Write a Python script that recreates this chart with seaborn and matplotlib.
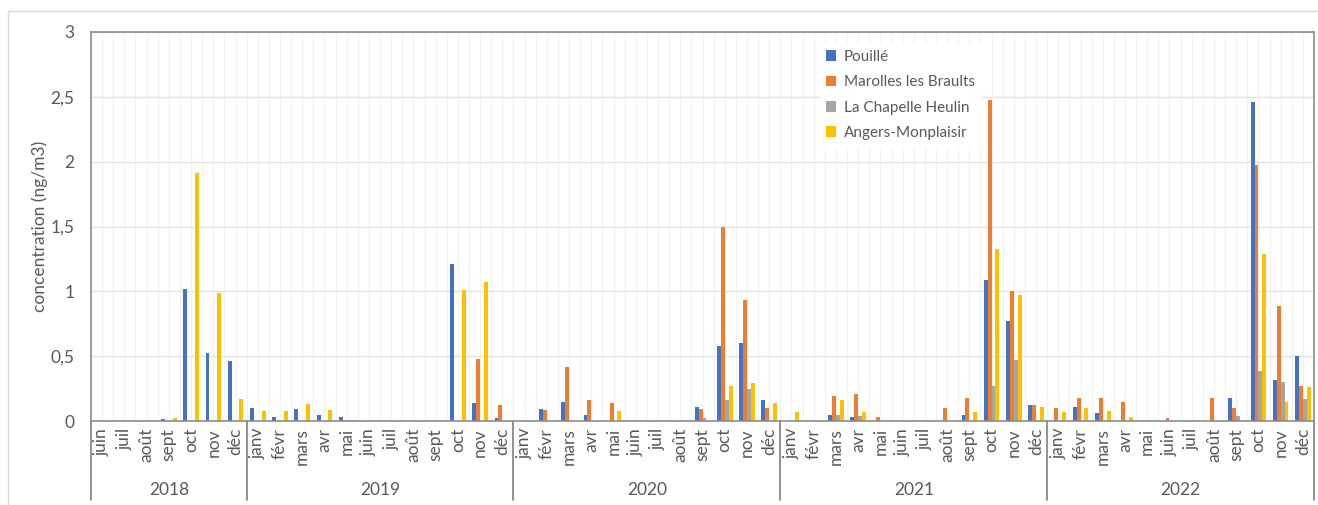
import numpy as np
import pandas as pd
import matplotlib
matplotlib.use("Agg")
import matplotlib.pyplot as plt
from matplotlib.patches import Rectangle
from matplotlib.ticker import FuncFormatter
import seaborn as sns

nan = np.nan

years = ["2018", "2019", "2020", "2021", "2022"]
months_full = ["janv", "févr", "mars", "avr", "mai", "juin",
               "juil", "août", "sept", "oct", "nov", "déc"]
months_2018 = ["juin", "juil", "août", "sept", "oct", "nov", "déc"]

stations = ["Pouillé", "Marolles les Braults", "La Chapelle Heulin", "Angers-Monplaisir"]
colors = ["#4472C4", "#ED7D31", "#A5A5A5", "#FFC000"]

pouille = (
    [nan, nan, nan, 0.013, 1.02, 0.525, 0.46]
    + [0.10, 0.03, 0.09, 0.045, 0.03, nan, nan, nan, nan, 1.21, 0.14, 0.02]
    + [nan, 0.092, 0.15, 0.046, nan, nan, nan, nan, 0.11, 0.58, 0.60, 0.16]
    + [nan, nan, 0.05, 0.03, nan, nan, nan, nan, 0.044, 1.085, 0.77, 0.12]
    + [nan, 0.11, 0.06, nan, nan, nan, nan, nan, 0.18, 2.46, 0.32, 0.50]
)
marolles = (
    [nan] * 7
    + [nan, nan, nan, nan, nan, nan, nan, nan, nan, nan, 0.48, 0.125]
    + [nan, 0.085, 0.42, 0.16, 0.14, nan, nan, nan, 0.095, 1.50, 0.93, 0.10]
    + [nan, nan, 0.195, 0.21, 0.03, nan, nan, 0.10, 0.177, 2.475, 1.00, 0.125]
    + [0.10, 0.18, 0.175, 0.146, nan, 0.02, nan, 0.177, 0.10, 1.975, 0.89, 0.267]
)
chapelle = (
    [nan] * 7
    + [nan] * 12
    + [nan, nan, nan, nan, nan, nan, nan, nan, 0.023, 0.16, 0.245, nan]
    + [nan, nan, 0.05, 0.04, nan, nan, nan, nan, nan, 0.267, 0.467, nan]
    + [nan, nan, nan, nan, nan, nan, nan, nan, 0.04, 0.385, 0.30, 0.17]
)
angers = (
    [nan, nan, nan, 0.025, 1.91, 0.99, 0.17]
    + [0.08, 0.075, 0.13, 0.085, 0.01, nan, nan, nan, nan, 1.01, 1.07, nan]
    + [nan, nan, nan, nan, 0.075, nan, nan, nan, nan, 0.27, 0.295, 0.135]
    + [0.066, nan, 0.165, 0.07, nan, nan, nan, nan, 0.07, 1.323, 0.97, 0.11]
    + [0.072, 0.10, 0.08, 0.033, nan, nan, nan, nan, nan, 1.29, 0.15, 0.26]
)

# month labels and unique keys for every period
month_labels = months_2018 + months_full * 4
year_of_month = ["2018"] * 7 + [y for y in years[1:] for _ in range(12)]
keys = [f"{y}-{m}" for y, m in zip(year_of_month, month_labels)]

series = {"Pouillé": pouille, "Marolles les Braults": marolles,
          "La Chapelle Heulin": chapelle, "Angers-Monplaisir": angers}
rows = []
for name, vals in series.items():
    for k, v in zip(keys, vals):
        if not np.isnan(v):
            rows.append({"periode": k, "station": name, "valeur": v})
df = pd.DataFrame(rows)

sns.set_theme(style="white")
plt.rcParams["font.family"] = ["Lato", "DejaVu Sans"]
text_color = "#595959"
axis_fs = 12.5

fig = plt.figure(figsize=(13.18, 5.05), dpi=100)
fig.patch.set_facecolor("white")
fig.patches.append(Rectangle((8 / 1318, -0.1), 1.2, (505 - 11) / 505 + 0.1,
                             transform=fig.transFigure, fill=False,
                             edgecolor="#D9D9D9", linewidth=1.0, zorder=0))

ax = fig.add_axes([91 / 1318, (505 - 421) / 505, (1314 - 91) / 1318, (421 - 32) / 505])

sns.barplot(data=df, x="periode", y="valeur", hue="station",
            order=keys, hue_order=stations, palette=colors,
            errorbar=None, width=0.7, saturation=1, linewidth=0, ax=ax)

n = len(keys)
ax.set_xlim(-0.5, n - 0.5)
ax.set_ylim(0, 3)
ax.set_yticks(np.arange(0, 3.01, 0.5))
ax.yaxis.set_major_formatter(FuncFormatter(lambda v, p: f"{v:g}".replace(".", ",")))

# half-month vertical grid and horizontal grid
for xv in np.arange(-0.5, n - 0.4, 0.5):
    ax.axvline(xv, color="#F2F2F2", linewidth=0.8, zorder=0)
for yv in np.arange(0.5, 3.01, 0.5):
    ax.axhline(yv, color="#E3E3E3", linewidth=1.0, zorder=0.5)

ax.set_xticks(range(n))
ax.set_xticklabels(month_labels, rotation=90, color=text_color, fontsize=axis_fs)
ax.tick_params(axis="x", length=0, pad=5)
ax.tick_params(axis="y", length=0, pad=12, labelcolor=text_color, labelsize=axis_fs)
ax.set_xlabel("")
ax.set_ylabel("concentration (ng/m3)", color=text_color, fontsize=axis_fs, labelpad=2)

for side in ["left", "right", "top", "bottom"]:
    ax.spines[side].set_visible(True)
    ax.spines[side].set_color("#8C8C8C")
    ax.spines[side].set_linewidth(1.2)

# year groups under the month labels
bounds = [-0.5, 6.5, 18.5, 30.5, 42.5, 54.5]
trans = ax.get_xaxis_transform()
depth = -(500 - 421) / (421 - 32)
for b in bounds:
    ax.plot([b, b], [0, depth], transform=trans, color="#7F7F7F",
            linewidth=1.2, clip_on=False)
for i, y in enumerate(years):
    cx = (bounds[i] + bounds[i + 1]) / 2
    ax.text(cx, -(490 - 421) / (421 - 32), y, transform=trans, ha="center",
            va="center", color=text_color, fontsize=axis_fs)

leg = ax.legend(loc="upper left", bbox_to_anchor=((812 - 91) / 1223, (421 - 36) / 389),
                frameon=True, fontsize=11, labelspacing=0.75, handlelength=0.7,
                handleheight=0.7, handletextpad=0.5, borderpad=0.4)
leg.get_frame().set_facecolor("white")
leg.get_frame().set_edgecolor("white")
leg.get_frame().set_alpha(1)
for t in leg.get_texts():
    t.set_color(text_color)

fig.savefig("out.png", dpi=100, facecolor="white")
